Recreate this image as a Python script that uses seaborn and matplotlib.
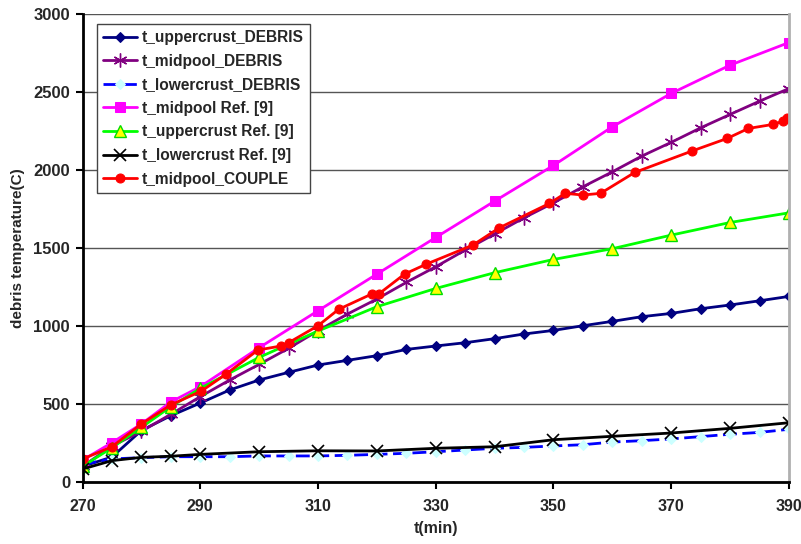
import numpy as np
import pandas as pd
import matplotlib
matplotlib.use("Agg")
import matplotlib.pyplot as plt
import seaborn as sns

# time axes (min)
t_debris = [270, 275, 280, 285, 290, 295, 300, 305, 310, 315, 320, 325, 330,
            335, 340, 345, 350, 355, 360, 365, 370, 375, 380, 385, 390]
t_ref = [270, 275, 280, 285, 290, 300, 310, 320, 330, 340, 350, 360, 370, 380, 390]
t_couple = [270, 275, 280, 285, 290.2, 294.4, 299.8, 303.7, 305, 310, 313.5,
            319.1, 320.3, 324.7, 328.4, 336.3, 340.8, 349.3, 352, 355, 358,
            363.8, 373.5, 379.5, 383.1, 387.3, 389, 389.6]

# temperatures (C)
upper_debris = [100, 160, 330, 425, 506, 590, 654, 703, 750, 780, 810, 850, 872,
                893, 919, 949, 972, 1002, 1030, 1060, 1081, 1111, 1135, 1162, 1190]
mid_debris = [100, 230, 325, 434, 547, 654, 754, 857, 970, 1077, 1173, 1280, 1380,
              1487, 1590, 1694, 1790, 1893, 1989, 2090, 2178, 2271, 2357, 2442, 2523]
lower_debris = [113, 148, 156, 162, 162, 162, 167, 167, 167, 171, 177, 184, 194,
                205, 216, 222, 231, 239, 256, 265, 276, 291, 306, 318, 338]
mid_ref = [140, 252, 372, 513, 611, 861, 1098, 1333, 1568, 1801, 2030, 2278, 2492, 2673, 2818]
upper_ref = [100, 220, 350, 483, 600, 799, 968, 1124, 1241, 1342, 1427, 1496, 1583, 1664, 1726]
t_lower_ref = [270, 275, 280, 285, 290, 300, 310, 320, 330, 340, 350, 360, 370, 380, 390]
lower_ref = [83, 137, 158, 165, 177, 194, 200, 199, 216, 226, 271, 293, 314, 344, 380]
mid_couple = [147, 226, 372, 494, 583, 692, 846, 872, 893, 1002, 1107, 1205, 1205,
              1333, 1397, 1519, 1630, 1786, 1851, 1840, 1851, 1985, 2122, 2203,
              2267, 2293, 2314, 2331]

sns.set_theme(style="white")
plt.rcParams['font.family'] = ['Liberation Sans', 'DejaVu Sans']
plt.rcParams['font.weight'] = 'bold'

fig, ax = plt.subplots(figsize=(8.01, 5.44), dpi=100)
fig.subplots_adjust(left=0.103, right=0.985, top=0.974, bottom=0.114)

series = [
    ("t_uppercrust_DEBRIS", t_debris, upper_debris,
     dict(color="#000080", marker="D", markersize=5.5, markerfacecolor="#000080",
          markeredgecolor="#000080", linestyle="-")),
    ("t_midpool_DEBRIS", t_debris, mid_debris,
     dict(color="#800080", marker=(6, 2, 0), markersize=10, markeredgewidth=1,
          markeredgecolor="#800080", linestyle="-")),
    ("t_lowercrust_DEBRIS", t_debris, lower_debris,
     dict(color="#0000ff", marker="D", markersize=5.5, markerfacecolor="#ccffff",
          markeredgecolor="#ccffff", linestyle=(0, (5, 2)))),
    ("t_midpool Ref. [9]", t_ref, mid_ref,
     dict(color="#ff00ff", marker="s", markersize=7.5, markerfacecolor="#ff00ff",
          markeredgecolor="#ff00ff", linestyle="-")),
    ("t_uppercrust Ref. [9]", t_ref, upper_ref,
     dict(color="#00ff00", marker="^", markersize=8, markerfacecolor="#ffff00",
          markeredgecolor="#00dd00", markeredgewidth=1, linestyle="-")),
    ("t_lowercrust Ref. [9]", t_lower_ref, lower_ref,
     dict(color="black", marker="x", markersize=8, markeredgewidth=1.2,
          markeredgecolor="black", linestyle="-")),
    ("t_midpool_COUPLE", t_couple, mid_couple,
     dict(color="#ff0000", marker="o", markersize=6.5, markerfacecolor="#ff0000",
          markeredgecolor="#ff0000", linestyle="-")),
]

for label, x, y, style in series:
    sns.lineplot(x=x, y=y, ax=ax, label=label, linewidth=2, **style)

ax.set_xlim(270, 390)
ax.set_ylim(0, 3000)
ax.set_xticks(range(270, 391, 20))
ax.set_yticks(range(0, 3001, 500))
ax.yaxis.grid(True, color="#555555", linewidth=1)
ax.set_axisbelow(True)

for side in ["left", "bottom"]:
    ax.spines[side].set_color("black")
    ax.spines[side].set_linewidth(2)
ax.spines["right"].set_color("#b0b0b0")
ax.spines["right"].set_linewidth(2)
ax.spines["top"].set_visible(False)

ax.tick_params(axis="both", direction="out", length=5, width=1.5, color="black",
               bottom=True, left=True)
ax.tick_params(axis="x", pad=7, labelsize=11.5)
ax.tick_params(axis="y", pad=4, labelsize=12)
for lab in ax.get_xticklabels() + ax.get_yticklabels():
    lab.set_fontweight("bold")

ax.set_xlabel("t(min)", fontsize=11.5, fontweight="bold", labelpad=5)
ax.set_ylabel("debris temperature(C)", fontsize=11, fontweight="bold", labelpad=6)

leg = ax.legend(loc="upper left", bbox_to_anchor=(0.02, 0.979), borderaxespad=0,
                fontsize=11.2, frameon=True, fancybox=False, framealpha=1,
                edgecolor="#444444", handlelength=2.2, handletextpad=0.3,
                labelspacing=0.55, borderpad=0.4)
leg.get_frame().set_linewidth(1)
for txt in leg.get_texts():
    txt.set_fontweight("bold")

plt.savefig("out.png", dpi=100)
